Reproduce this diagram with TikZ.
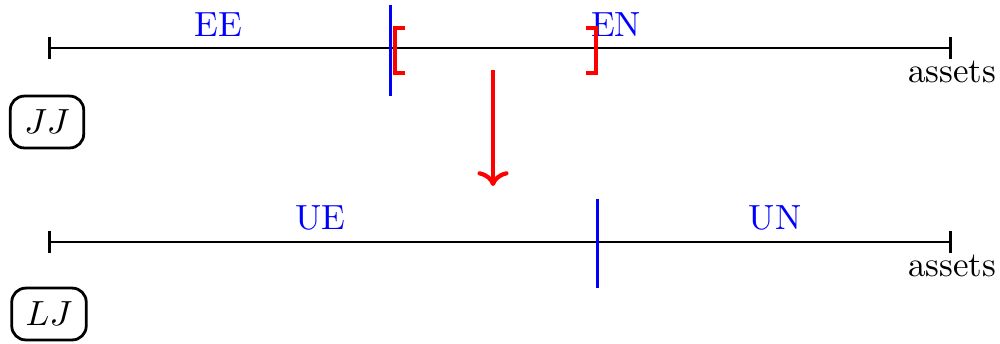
\documentclass[tikz,border=0pt]{standalone}
\usetikzlibrary{arrows.meta}
\begin{document}
\begin{tikzpicture}[x=0.01005cm,y=-0.01005cm,
  axis/.style={thick,|-|},
  cut/.style={blue,line width=0.85pt},
  lab/.style={blue},
  bracketstyle/.style={red,very thick},
  statebox/.style={draw,thick,rounded corners=4pt,minimum height=0.5cm,inner sep=4pt}]
\useasboundingbox (0,0) rectangle (1000,343);
% top axis
\coordinate (t0) at (48,48);
\coordinate (t1) at (952,48);
\draw[axis] (t0) -- (t1) node[below] (ta) {assets};
\coordinate (bt) at (390.6,5);
\coordinate (bb) at (390.6,96);
\draw[cut] (bt) -- (bb);
\node[lab] (ee) at (218,25) {EE};
\node[lab] (en) at (616,25) {EN};
% brackets
\draw[bracketstyle] (405,28) -- (395,28) -- (395,73) -- (405,73);
\draw[bracketstyle] (586,28) -- (596,28) -- (596,73) -- (586,73);
% arrow
\coordinate (a0) at (493,70);
\coordinate (a1) at (493,186);
\draw[red,very thick,->] (a0) -- (a1);
% bottom axis
\coordinate (b0) at (48,242);
\coordinate (b1) at (952,242);
\draw[axis] (b0) -- (b1) node[below] (ba) {assets};
\coordinate (ct) at (597,199);
\coordinate (cb) at (597,288);
\draw[cut] (ct) -- (cb);
\node[lab] (ue) at (320,218) {UE};
\node[lab] (un) at (775,218) {UN};
% boxes
\node[statebox] (jj) at (47,122) {$JJ$};
\node[statebox] (lj) at (49,314) {$LJ$};
\end{tikzpicture}
\end{document}
